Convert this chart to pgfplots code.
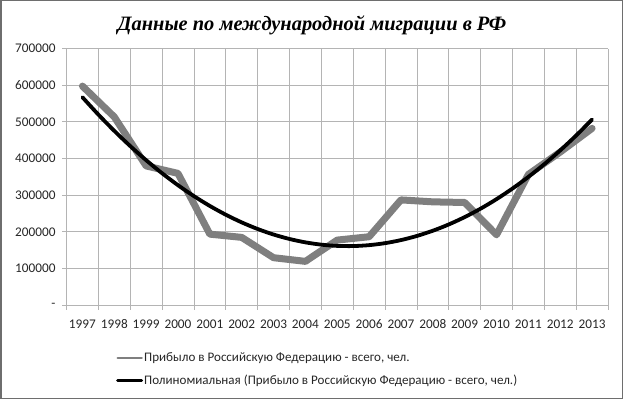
\documentclass[border=0pt]{standalone}
\usepackage{pgfplots}
\pgfplotsset{compat=1.18}
\usepackage{fontspec}
\setmainfont{Carlito}
\newfontfamily\titlefont{Liberation Serif}
\definecolor{dataGray}{HTML}{7F7F7F}
\definecolor{gridGray}{HTML}{B4B4B4}
\definecolor{frameGray}{HTML}{6E6E6E}
\definecolor{textGray}{HTML}{262626}

\pgfplotstableread{
x y
0 597651
1 513551
2 379726
3 359330
4 193450
5 184612
6 129144
7 119157
8 177230
9 186380
10 286956
11 281614
12 279907
13 191656
14 356535
15 417681
16 482241
}\arrivals

\pgfplotstableread{
x y
0 567273
0.5 519904
1 475467
1.5 433964
2 395395
2.5 359758
3 327055
3.5 297286
4 270450
4.5 246546
5 225577
5.5 207542
6 192439
6.5 180270
7 171034
7.5 164732
8 161363
8.5 160928
9 163426
9.5 168856
10 177221
10.5 188520
11 202751
11.5 219916
12 240014
12.5 263046
13 289011
13.5 317910
14 349741
14.5 384506
15 422205
15.5 462838
16 506403
}\trend

\begin{document}
\begin{tikzpicture}[x=1bp,y=1bp]
\path[use as bounding box] (0,0) rectangle (623,399);
\draw[color=frameGray, line width=1.5bp] (0.75,0.75) rectangle (622.25,398.25);
\node[font=\titlefont\bfseries\itshape\fontsize{20.5}{24}\selectfont, anchor=base] at (312,369) {Данные по международной миграции в РФ};
\begin{axis}[
  at={(66.5bp,94bp)}, anchor=south west,
  width=541.5bp, height=256.4bp, scale only axis,
  xmin=-0.5, xmax=16.5, ymin=0, ymax=700000,
  scaled y ticks=false,
  xtick={0,...,16},
  xticklabels={1997,1998,1999,2000,2001,2002,2003,2004,2005,2006,2007,2008,2009,2010,2011,2012,2013},
  minor xtick={-0.5,0.5,...,16.5},
  ytick={0,100000,...,700000},
  yticklabels={-,100000,200000,300000,400000,500000,600000,700000},
  major x tick style={draw=none},
  xminorgrids=true, ymajorgrids=true,
  grid style={gridGray, line width=0.75bp},
  minor grid style={gridGray, line width=0.75bp},
  tick align=outside,
  major tick length=4.5bp, minor tick length=4.5bp,
  tick style={gridGray, line width=0.75bp},
  axis line style={gridGray, line width=0.75bp},
  axis x line*=bottom, axis y line*=left,
  ticklabel style={font=\fontsize{13.3}{16}\selectfont, text=textGray},
  xticklabel style={yshift=-6bp, text height=9bp, text depth=2bp},
  yticklabel style={xshift=-3bp},
  /pgf/number format/assume math mode=true,
  legend cell align=left,
  legend style={at={(axis description cs:0.0914,-0.182)}, anchor=north west,
    draw=none, fill=none, inner sep=0pt, row sep=10bp,
    font=\fontsize{13.1}{16}\selectfont, text=textGray,
    nodes={inner sep=1bp}},
  clip=false,
]
\addplot[dataGray, line width=7bp, line join=round, line cap=round,
  legend image code/.code={\draw[dataGray, line width=2.5bp] (0bp,0bp) -- (24bp,0bp);}]
  table[x=x,y=y] {\arrivals};
\addlegendentry{Прибыло в Российскую Федерацию - всего, чел.}
\addplot[black, line width=3.8bp, smooth, line cap=round,
  legend image code/.code={\draw[black, line width=3bp] (0bp,0bp) -- (24bp,0bp);}]
  table[x=x,y=y] {\trend};
\addlegendentry{Полиномиальная (Прибыло в Российскую Федерацию - всего, чел.)}
\end{axis}
\end{tikzpicture}
\end{document}
